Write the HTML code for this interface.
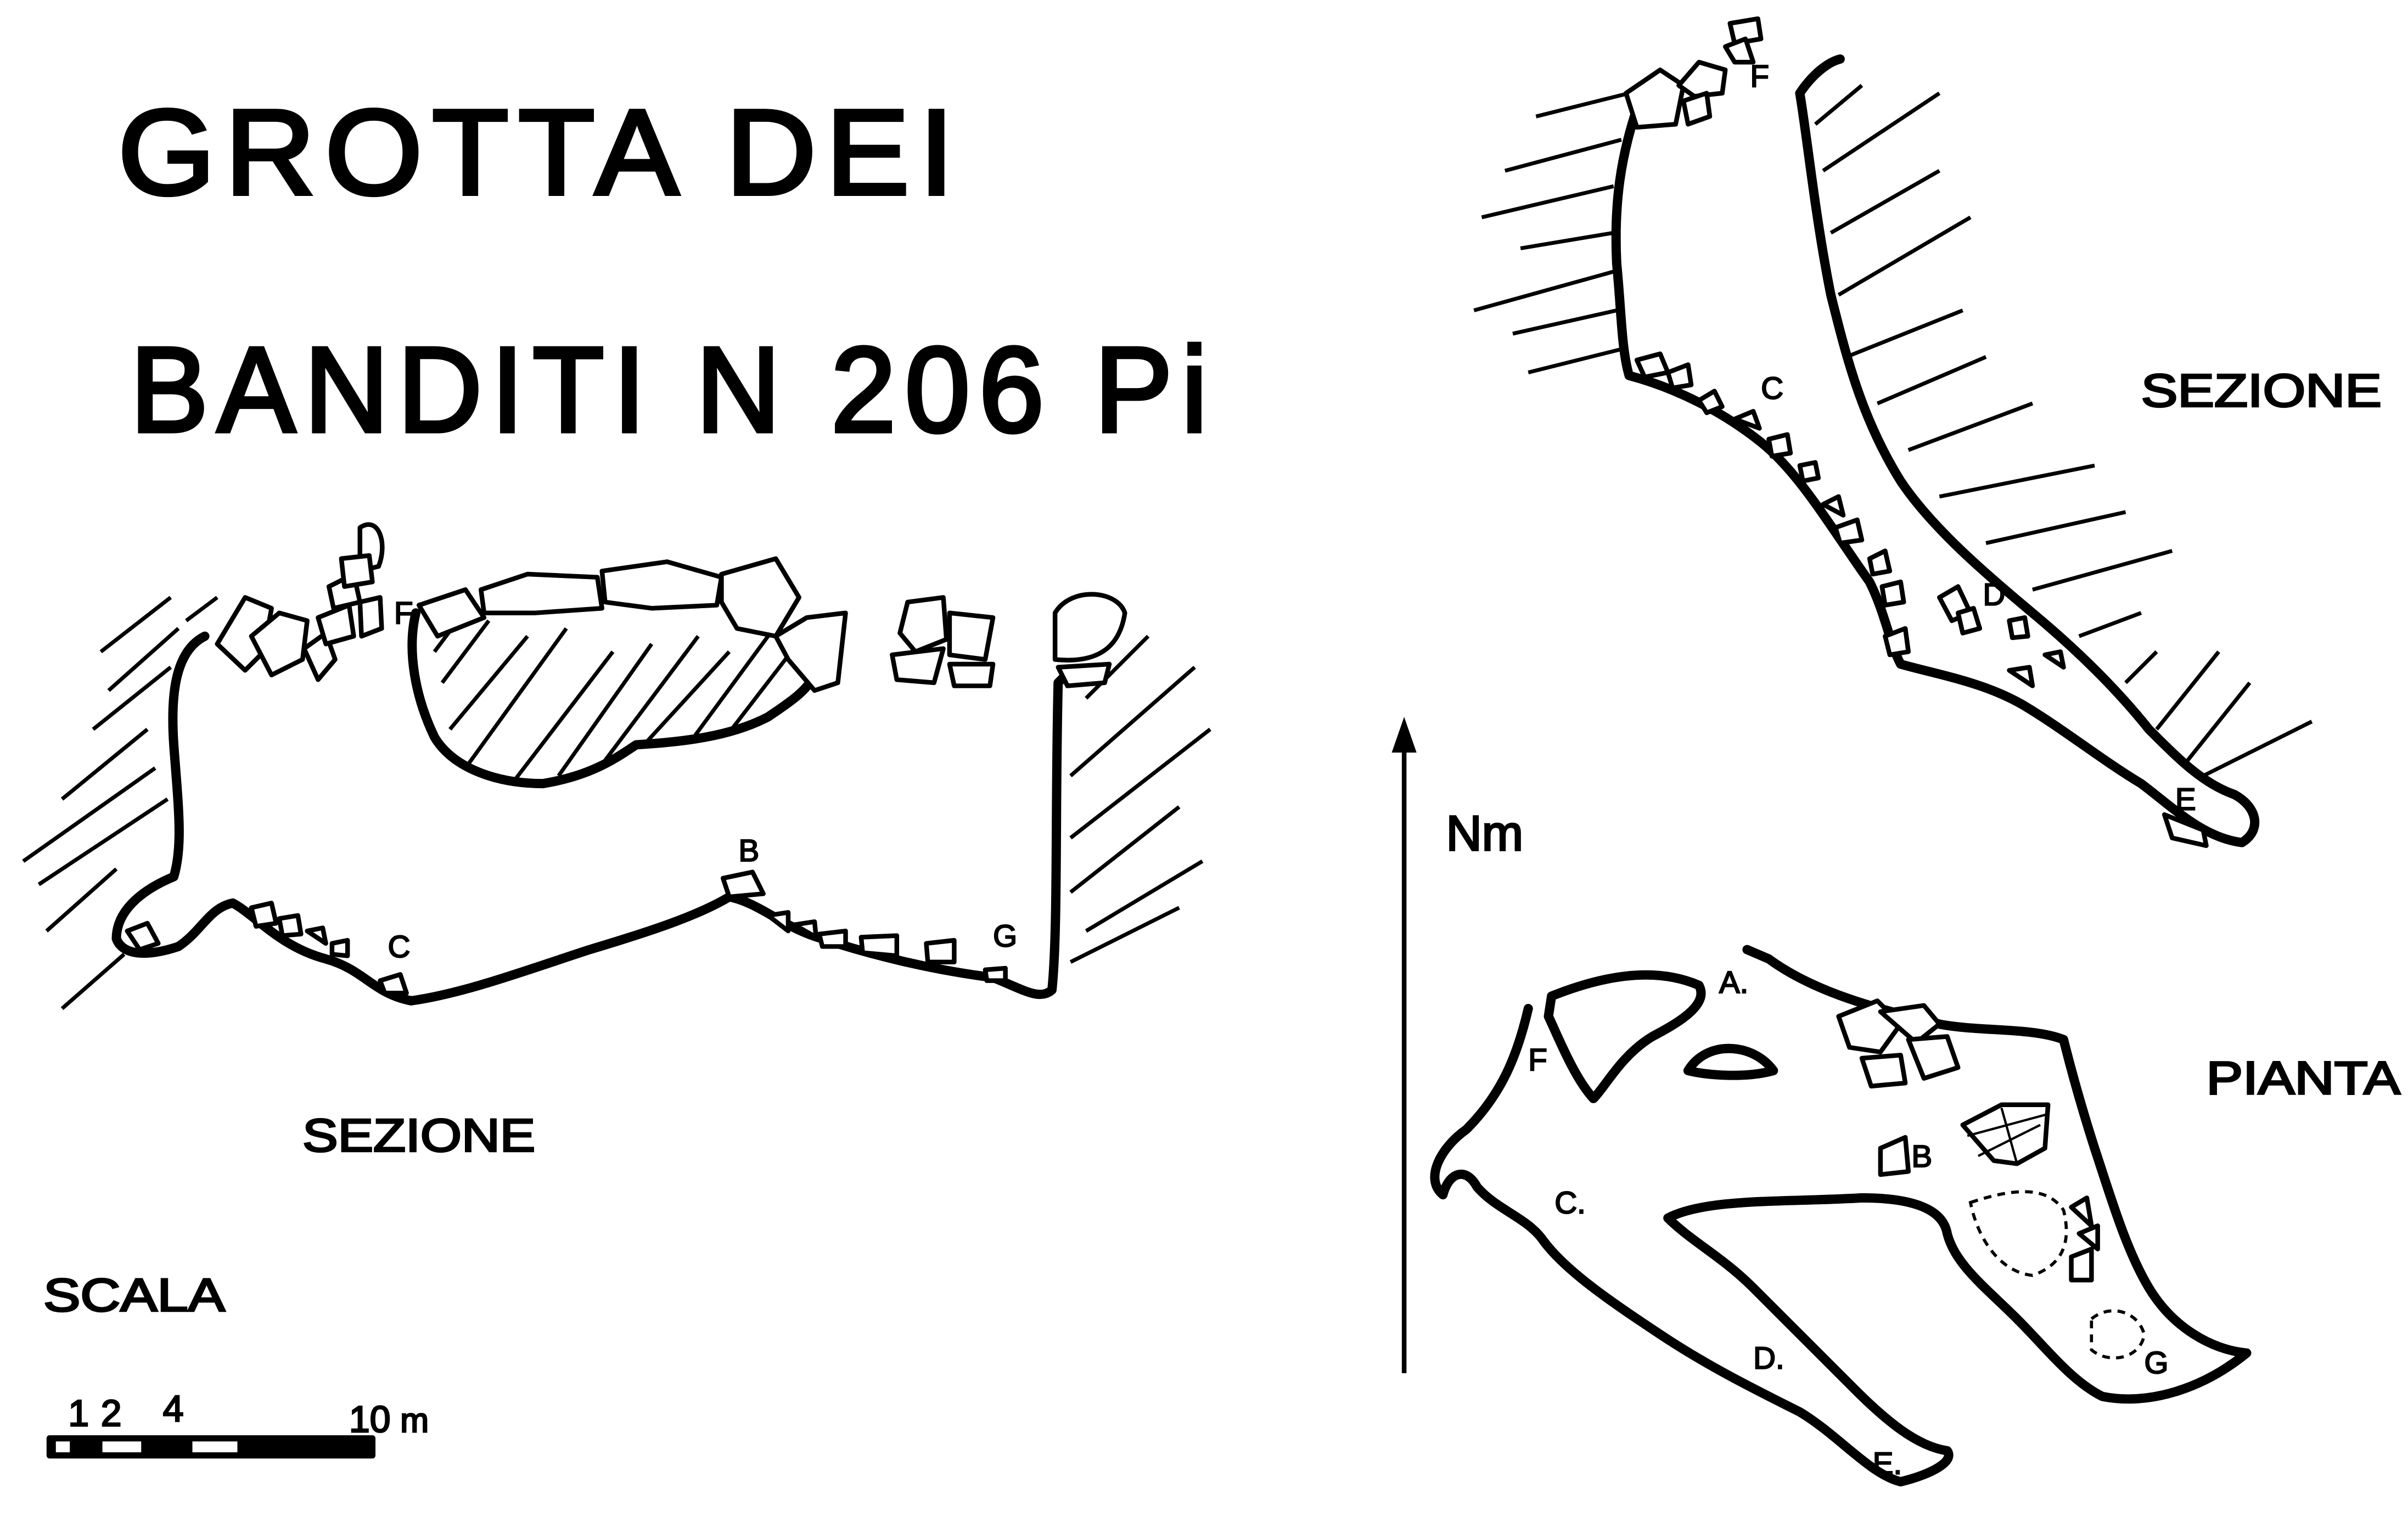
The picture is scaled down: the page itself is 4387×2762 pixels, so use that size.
<!DOCTYPE html>
<html><head><meta charset="utf-8"><style>
html,body{margin:0;padding:0;background:#fff}
svg{display:block}
text{font-family:"Liberation Sans",sans-serif;fill:#000;stroke:#000}
</style></head><body>
<svg width="4387" height="2762" viewBox="0 0 1552 977" xmlns="http://www.w3.org/2000/svg">
<g font-size="78" letter-spacing="6" stroke-width="2.5">
<text x="76" y="125" textLength="545" lengthAdjust="spacingAndGlyphs">GROTTA  DEI</text>
<text x="84" y="278" textLength="700" lengthAdjust="spacingAndGlyphs">BANDITI  N 206 Pi</text>
</g>
<g font-size="30" stroke-width="1.2">
<text x="195" y="742" textLength="150" lengthAdjust="spacingAndGlyphs">SEZIONE</text>
<text x="1380" y="262" textLength="155" lengthAdjust="spacingAndGlyphs">SEZIONE</text>
<text x="1422" y="705" textLength="125" lengthAdjust="spacingAndGlyphs">PIANTA</text>
<text x="28" y="845" textLength="117" lengthAdjust="spacingAndGlyphs">SCALA</text>
<text x="932" y="548" font-size="32">Nm</text>
</g>
<g font-size="24" stroke-width="1">
<text x="44" y="919">1</text><text x="65" y="919">2</text><text x="105" y="916">4</text>
<text x="225" y="923">10</text><text x="258" y="923" font-size="22">m</text>
</g>
<rect x="30" y="925" width="212" height="15" fill="#000" rx="2"/>
<rect x="36" y="929" width="9" height="7" fill="#fff"/>
<rect x="66" y="929" width="25" height="7" fill="#fff"/>
<rect x="124" y="929" width="29" height="7" fill="#fff"/>
<g font-size="20" stroke-width="0.8">
<text x="254" y="402">F</text><text x="250" y="617">C</text><text x="476" y="555">B</text><text x="640" y="610">G</text>
<text x="1128" y="56">F</text><text x="1135" y="257">C</text><text x="1278" y="390">D</text><text x="1402" y="522">E</text>
<text x="1108" y="640">A.</text><text x="985" y="690">F</text><text x="1002" y="782">C.</text><text x="1232" y="752">B</text>
<text x="1130" y="882">D.</text><text x="1207" y="950">E.</text><text x="1382" y="885">G</text>
</g>
<g fill="none" stroke="#000" stroke-width="6" stroke-linejoin="round" stroke-linecap="round">
<path d="M132,410 C112,420 110,450 112,480 C115,520 118,545 112,565 C95,572 75,585 75,605 C80,618 100,615 115,610 C130,600 135,585 150,582 C165,590 180,610 210,618 C235,625 240,640 265,645 C300,640 340,625 380,612 C420,600 450,590 470,578 C490,582 505,598 530,605 C560,615 600,625 640,630 C660,638 670,645 678,638 C682,600 680,520 682,440 L690,432"/>
<path d="M268,395 C262,420 268,450 280,475 C292,495 320,505 350,505 C380,500 395,490 410,480 C440,478 470,475 495,462 C510,452 520,445 525,435"/>
<path d="M1055,70 C1045,100 1040,130 1042,170 C1045,200 1045,225 1050,242 C1080,250 1110,265 1135,285 C1160,305 1180,340 1205,375 C1215,395 1218,415 1225,428 C1250,435 1280,440 1305,455 C1330,470 1355,490 1380,505 C1400,520 1420,540 1445,543 C1458,535 1455,520 1440,512 C1420,505 1405,490 1385,470 C1365,445 1340,420 1310,395 C1280,370 1245,340 1225,310 C1200,270 1190,230 1180,190 C1170,140 1165,90 1160,60 C1168,48 1178,40 1186,38"/>
<path d="M1000,642 C1030,630 1065,622 1095,635 C1102,648 1080,660 1065,668 C1045,680 1035,700 1027,708 C1015,695 1005,670 998,655 Z"/>
<path d="M1088,690 C1100,670 1130,672 1143,690 C1125,695 1100,693 1088,690 Z"/>
<path d="M985,650 C978,680 968,705 945,728 C928,740 918,760 930,770 C934,755 945,752 952,765 C965,780 985,785 995,800 C1010,820 1040,840 1070,860 C1100,880 1130,895 1160,910 C1185,925 1205,950 1225,955 C1245,950 1260,942 1255,935 C1235,932 1215,915 1195,895 C1170,870 1150,850 1130,830 C1110,810 1090,800 1075,785 C1100,772 1150,775 1200,772 C1230,772 1252,778 1255,795 C1260,815 1280,830 1300,850 C1320,870 1335,890 1355,900 C1385,906 1420,895 1448,872 C1425,870 1400,855 1385,830 C1370,805 1360,770 1350,740 C1342,715 1335,690 1330,670 C1310,662 1275,665 1250,660 C1210,650 1170,640 1140,618 L1126,612"/>
</g>
<path d="M905,885 L905,475" stroke="#000" stroke-width="3"/>
<path d="M897,485 L905,462 L913,485 Z" fill="#000"/>
<g stroke="#000" stroke-width="2.5" fill="none">
<path d="M65,420 L110,385 M70,445 L115,405 M60,470 L110,430 M40,515 L95,470 M15,555 L100,495 M25,570 L108,515 M30,600 L75,560 M40,650 L80,615 M120,400 L140,385"/>
<path d="M700,450 L740,410 M690,500 L770,430 M690,540 L780,470 M690,575 L760,520 M700,600 L775,555 M690,620 L760,585"/>
<path d="M285,440 L315,400 M290,470 L340,410 M300,495 L365,405 M330,505 L395,420 M360,500 L420,415 M390,490 L450,410 M415,480 L470,420 M445,478 L495,410 M470,472 L510,420 M280,420 L295,400"/>
<path d="M990,75 L1050,60 M970,110 L1045,90 M955,140 L1040,120 M980,160 L1040,150 M950,200 L1040,175 M975,215 L1042,200 M985,240 L1045,225"/>
<path d="M1170,80 L1200,55 M1175,110 L1250,60 M1180,150 L1250,110 M1185,190 L1270,140 M1190,230 L1265,200 M1210,260 L1280,230 M1230,290 L1310,260 M1250,320 L1350,300 M1280,350 L1370,330 M1310,380 L1400,355 M1340,410 L1380,395 M1370,440 L1390,420 M1390,470 L1430,420 M1410,490 L1450,440 M1420,500 L1490,465"/>
</g>
<g stroke="#000" stroke-width="3" fill="#fff" stroke-linejoin="round">
<path d="M140,415 L158,385 L175,392 L170,420 L158,432 Z"/><path d="M162,410 L180,395 L198,400 L195,425 L175,435 Z"/>
<path d="M196,418 L210,408 L216,425 L205,438 Z"/><path d="M205,398 L225,390 L228,410 L210,415 Z"/>
<path d="M212,378 L228,370 L232,388 L215,392 Z"/><path d="M232,388 L245,385 L246,405 L233,410 Z"/>
<path d="M232,340 C244,332 250,350 244,365 L232,368 Z"/><path d="M220,360 L238,358 L240,375 L222,378 Z"/>
<path d="M270,390 L300,380 L312,398 L282,410 Z"/>
<path d="M310,380 L340,370 L385,372 L388,392 L345,395 L312,395 Z"/>
<path d="M388,368 L430,362 L465,372 L462,390 L420,392 L390,388 Z"/>
<path d="M465,370 L500,360 L515,385 L500,410 L475,405 L465,388 Z"/>
<path d="M500,410 L520,398 L545,395 L540,440 L525,445 L508,425 Z"/>
<path d="M585,388 L608,385 L610,412 L590,420 L580,408 Z"/><path d="M612,395 L640,398 L635,425 L612,422 Z"/>
<path d="M575,422 L608,418 L602,440 L578,438 Z"/><path d="M612,428 L640,428 L638,442 L615,442 Z"/>
<path d="M680,395 C690,378 720,380 725,395 C722,415 710,428 680,425 Z"/><path d="M682,430 L715,428 L712,440 L688,442 Z"/>
<path d="M82,600 L95,595 L102,608 L90,612 Z"/><path d="M162,585 L175,582 L178,595 L165,597 Z"/>
<path d="M180,592 L192,590 L194,602 L182,603 Z"/><path d="M198,600 L208,598 L210,608 Z"/><path d="M214,608 L224,606 L224,616 L214,615 Z"/>
<path d="M245,632 L258,628 L262,640 L248,640 Z"/><path d="M466,566 L485,562 L492,576 L470,578 Z"/>
<path d="M495,590 L508,588 L508,600 Z"/><path d="M512,596 L525,594 L526,604 Z"/><path d="M528,602 L545,600 L545,610 L530,610 Z"/>
<path d="M555,604 L578,603 L578,616 L556,614 Z"/><path d="M597,608 L615,606 L615,620 L598,620 Z"/><path d="M635,625 L648,624 L648,632 L636,632 Z"/>
<path d="M1048,60 L1070,45 L1085,55 L1080,80 L1055,82 Z"/><path d="M1082,55 L1095,40 L1112,45 L1110,60 L1092,62 Z"/>
<path d="M1085,65 L1100,60 L1102,75 L1088,80 Z"/><path d="M1115,15 L1133,12 L1135,25 L1118,28 Z"/><path d="M1112,30 L1125,25 L1130,40 L1118,40 Z"/>
<path d="M1055,232 L1070,228 L1075,240 L1060,243 Z"/><path d="M1075,240 L1088,235 L1090,248 L1078,250 Z"/>
<path d="M1095,258 L1105,252 L1110,262 L1100,266 Z"/><path d="M1118,270 L1130,265 L1134,276 Z"/><path d="M1140,283 L1152,280 L1154,292 L1142,294 Z"/>
<path d="M1160,300 L1170,298 L1172,308 L1162,310 Z"/><path d="M1175,325 L1185,320 L1188,332 Z"/><path d="M1183,340 L1197,335 L1200,348 L1186,350 Z"/>
<path d="M1205,360 L1215,355 L1218,368 L1207,370 Z"/><path d="M1213,378 L1225,375 L1227,388 L1215,390 Z"/><path d="M1215,410 L1228,405 L1230,420 L1218,422 Z"/>
<path d="M1250,385 L1262,378 L1270,395 L1258,400 Z"/><path d="M1262,395 L1272,392 L1276,405 L1265,408 Z"/><path d="M1295,400 L1305,398 L1307,410 L1297,411 Z"/>
<path d="M1318,422 L1328,420 L1330,430 Z"/><path d="M1295,432 L1308,430 L1310,442 Z"/><path d="M1395,525 L1420,535 L1422,545 L1400,540 Z"/>
<path d="M1185,655 L1210,645 L1225,660 L1212,678 L1192,675 Z"/><path d="M1212,652 L1240,648 L1250,660 L1235,672 Z"/>
<path d="M1230,670 L1255,668 L1262,688 L1240,695 Z"/><path d="M1200,682 L1225,680 L1228,698 L1206,700 Z"/>
<path d="M1212,740 L1228,733 L1230,755 L1212,757 Z"/>
<path d="M1265,725 L1290,712 L1320,712 L1318,740 L1300,750 L1285,748 Z"/>
<path d="M1335,778 L1345,772 L1348,790 Z"/><path d="M1340,795 L1352,790 L1352,805 Z"/><path d="M1335,810 L1348,805 L1348,825 L1335,825 Z"/>
</g>
<g stroke="#000" stroke-width="2" fill="none" stroke-dasharray="5,4">
<path d="M1270,775 C1300,765 1320,765 1330,780 C1335,800 1330,815 1310,822 C1290,820 1275,800 1270,775 Z"/>
<path d="M1348,850 C1360,840 1378,845 1382,860 C1380,875 1360,880 1348,870 Z"/>
</g>
<g stroke="#000" stroke-width="1.5"><path d="M1268,732 L1320,718 M1290,714 L1300,750 M1275,745 L1315,725"/></g>
</svg>
</body></html>
